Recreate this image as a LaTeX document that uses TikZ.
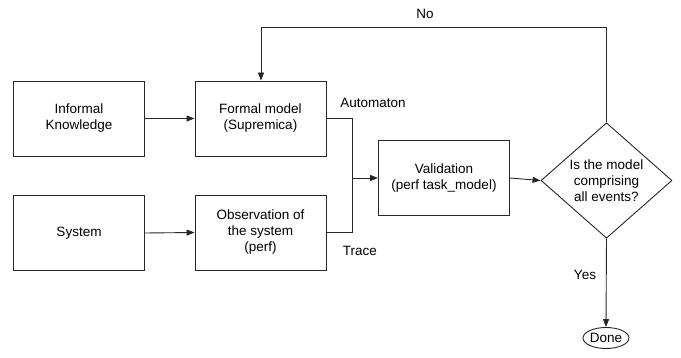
\documentclass[tikz,border=0pt]{standalone}
\usepackage{fontspec}
\setmainfont{Liberation Sans}
\usetikzlibrary{shapes.geometric,arrows.meta}
\begin{document}
\begin{tikzpicture}[x=1pt,y=-1pt,
  font=\fontsize{13.5}{16}\selectfont,
  line width=0.9pt, draw=black!85,
  box/.style={draw, minimum width=131pt, minimum height=75pt, align=center, inner sep=0pt},
  arr/.style={-{Triangle[length=8pt,width=6pt]}},
  lbl/.style={inner sep=0pt}]
\useasboundingbox (0,0) rectangle (681,358);
\node[box] (inf) at (79,118.5) {Informal\\Knowledge};
\node[box] (form) at (260.5,118.5) {Formal model\\(Supremica)};
\node[box] (sys) at (79,233) {System};
\node[box] (obs) at (260.5,232.5) {Observation of\\the system\\(perf)};
\node[box] (val) at (444,178) {Validation\\(perf task\_model)};
\node[draw, diamond, minimum width=131pt, minimum height=108pt, inner sep=0pt, align=center] (dec) at (606.5,180.5) {Is the model\\comprising\\all events?};
\node[draw, ellipse, minimum width=46pt, minimum height=21pt, inner sep=0pt] (done) at (606,338) {Done};
\coordinate (merge) at (352,178);
\coordinate (topR) at (606.5,27);
\coordinate (topL) at (261,27);
\draw[arr] (inf.east) -- (form.west);
\draw[arr] (sys.east) -- (obs.west);
\draw (form.east) -| (merge);
\draw (obs.east) -| (merge);
\draw[arr] (merge) -- (val.west);
\draw[arr] (val.east) -- (dec.west);
\draw[arr] (dec.north) -- (topR) -- (topL) -- (form.north -| topL);
\draw[arr] (dec.south) -- (done.north);
\node[lbl] (no) at (425,14) {No};
\node[lbl] (yes) at (585,275) {Yes};
\node[lbl] (auto) at (373,103) {Automaton};
\node[lbl] (trace) at (360,251) {Trace};
\end{tikzpicture}
\end{document}
